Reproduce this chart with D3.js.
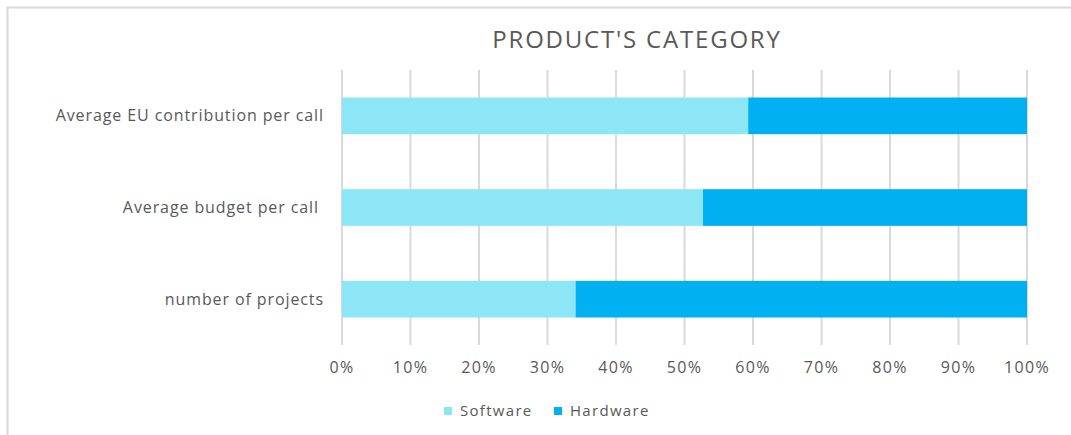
<!DOCTYPE html>
<html lang="en">
<head>
    <meta charset="UTF-8">
    <title>Product's Category</title>
    <script src="https://d3js.org/d3.v7.min.js"></script>
    <style>
        body { margin: 0; background: #fff; }
        text { font-family: "Open Sans", sans-serif; fill: #595959; }
    </style>
</head>
<body>
    <svg id="chart"></svg>

    <script>
        const categories = ["Average EU contribution per call", "Average budget per call ", "number of projects"];
        const series = ["Software", "Hardware"];
        const software = [0.593, 0.527, 0.341];
        const hardware = [0.407, 0.473, 0.659];
        const ticks = [0, 0.1, 0.2, 0.3, 0.4, 0.5, 0.6, 0.7, 0.8, 0.9, 1];
        const colors = ["#8DE6F5", "#00B0F0"];

        const width = 1071;
        const height = 435;
        const margin = { top: 70, right: 44, bottom: 90, left: 342 };

        const svg = d3.select("#chart")
            .attr("width", width)
            .attr("height", height);

        // chart frame
        svg.append("rect")
            .attr("x", 7.5).attr("y", 7.5)
            .attr("width", width + 10).attr("height", height + 10)
            .attr("fill", "none")
            .attr("stroke", "#d9d9d9")
            .attr("stroke-width", 2);

        svg.append("text")
            .attr("x", 637).attr("y", 48)
            .attr("text-anchor", "middle")
            .style("font-size", "24px")
            .style("letter-spacing", "1.8px")
            .text("PRODUCT'S CATEGORY");

        const x = d3.scaleLinear()
            .domain([0, 1])
            .range([margin.left, width - margin.right]);

        const y = d3.scaleBand()
            .domain(categories)
            .range([margin.top, height - margin.bottom])
            .paddingInner(0.6)
            .paddingOuter(0.3);

        // gridlines
        svg.append("g")
            .selectAll("line")
            .data(ticks)
            .enter()
            .append("line")
            .attr("x1", d => x(d)).attr("x2", d => x(d))
            .attr("y1", margin.top).attr("y2", height - margin.bottom)
            .attr("stroke", "#d9d9d9")
            .attr("stroke-width", 2);

        const table = categories.map((c, i) => ({ cat: c, Software: software[i], Hardware: hardware[i] }));
        const stacked = d3.stack().keys(series)(table);

        svg.append("g")
            .selectAll("g")
            .data(stacked)
            .enter()
            .append("g")
            .attr("fill", (d, i) => colors[i])
            .selectAll("rect")
            .data(d => d)
            .enter()
            .append("rect")
            .attr("x", d => x(d[0]))
            .attr("width", d => x(d[1]) - x(d[0]))
            .attr("y", d => y(d.data.cat))
            .attr("height", y.bandwidth());

        // y labels
        svg.append("g")
            .selectAll("text")
            .data(categories)
            .enter()
            .append("text")
            .attr("x", 324)
            .attr("y", d => y(d) + y.bandwidth() / 2)
            .attr("dy", "0.35em")
            .attr("text-anchor", "end")
            .style("font-size", "16px")
            .style("letter-spacing", "0.9px")
            .style("white-space", "pre")
            .text(d => d);

        // x tick labels
        svg.append("g")
            .selectAll("text")
            .data(ticks)
            .enter()
            .append("text")
            .attr("x", d => x(d))
            .attr("y", 373)
            .attr("text-anchor", "middle")
            .style("font-size", "16px")
            .style("letter-spacing", "1.3px")
            .text(d3.format(".0%"));

        // legend
        const legendX = [444, 554];
        const legend = svg.append("g")
            .selectAll("g")
            .data(series)
            .enter()
            .append("g")
            .attr("transform", (d, i) => `translate(${legendX[i]}, 407)`);

        legend.append("rect")
            .attr("width", 8).attr("height", 8)
            .attr("fill", (d, i) => colors[i]);

        legend.append("text")
            .attr("x", 16).attr("y", 4)
            .attr("dy", "0.35em")
            .style("font-size", "15px")
            .style("letter-spacing", "1.3px")
            .text(d => d);
    </script>
</body>
</html>
